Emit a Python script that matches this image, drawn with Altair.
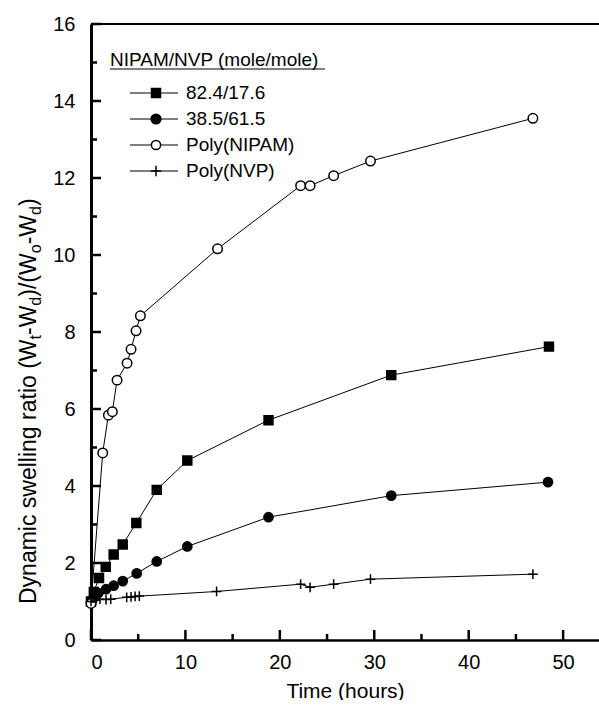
import altair as alt
import pandas as pd

# ---------------- data ----------------
series_names = ["82.4/17.6", "38.5/61.5", "Poly(NIPAM)", "Poly(NVP)"]

t_a = [0, 0.3, 0.85, 1.56, 2.4, 3.36, 4.8, 6.96, 10.2, 18.8, 31.8, 48.5]
y_a = [1.0, 1.25, 1.61, 1.90, 2.22, 2.48, 3.04, 3.90, 4.66, 5.71, 6.88, 7.62]

t_b = [0, 0.3, 0.78, 1.59, 2.4, 3.36, 4.84, 6.96, 10.2, 18.8, 31.8, 48.4]
y_b = [1.0, 1.1, 1.22, 1.32, 1.41, 1.53, 1.73, 2.04, 2.43, 3.19, 3.75, 4.10]

t_c = [0, 1.24, 1.84, 2.26, 2.76, 3.82, 4.24, 4.77, 5.23, 13.4, 22.2, 23.2, 25.7, 29.6, 46.8]
y_c = [0.95, 4.86, 5.84, 5.93, 6.75, 7.19, 7.55, 8.03, 8.42, 10.16, 11.8, 11.8, 12.06, 12.44, 13.55]

t_d = [0, 0.5, 0.95, 1.59, 2.09, 3.78, 4.24, 4.67, 5.12, 13.3, 22.2, 23.2, 25.7, 29.6, 46.8]
y_d = [1.0, 1.03, 1.06, 1.05, 1.06, 1.11, 1.12, 1.13, 1.14, 1.26, 1.45, 1.37, 1.45, 1.58, 1.71]

x_major = [0, 10, 20, 30, 40, 50]
x_minor = [5, 15, 25, 35, 45]
y_major = [0, 2, 4, 6, 8, 10, 12, 14, 16]
y_minor = [1, 3, 5, 7, 9, 11, 13, 15]

legend_title = "NIPAM/NVP (mole/mole)"
x_title = "Time (hours)"
# y title pieces: (text, is_subscript)
y_title_pieces = [("Dynamic swelling ratio (W", False), ("t", True), ("-W", False), ("d", True),
                  (")/(W", False), ("o", True), ("-W", False), ("d", True), (")", False)]

# ---------------- layout / style ----------------
W, H = 508, 616
XMAX = 53.8
FONT = "Liberation Sans"
CROSS = "M-1,0H1M0,-1V1"

shapes = ["square", "circle", "circle", CROSS]
fills = ["black", "black", "white", "transparent"]
sizes = [80, 95, 85, 110]

frames = []
for name, t, y in zip(series_names, [t_a, t_b, t_c, t_d], [y_a, y_b, y_c, y_d]):
    frames.append(pd.DataFrame({"series": name, "t": t, "y": y}))
df = pd.concat(frames, ignore_index=True)

xs = alt.Scale(domain=[0, XMAX], nice=False, zero=False)
ys = alt.Scale(domain=[0, 16], nice=False)

base = alt.Chart(df)

lines = base.mark_line(color="black", strokeWidth=1).encode(
    x=alt.X("t:Q", scale=xs, title=x_title,
            axis=alt.Axis(values=x_major, grid=False, ticks=False, tickSize=0, domainWidth=2.5,
                          domainColor="black", labelFontSize=20, labelPadding=12, labelColor="black",
                          labelFont=FONT, titleFont=FONT, titleFontSize=21, titleFontWeight="normal",
                          titleColor="black", titlePadding=8)),
    y=alt.Y("y:Q", scale=ys, title=None,
            axis=alt.Axis(values=y_major, grid=False, ticks=False, tickSize=0, domainWidth=3,
                          domainColor="black", labelFontSize=20, labelPadding=16, labelColor="black",
                          labelFont=FONT)),
    detail="series:N",
)

points = base.mark_point(opacity=1, fillOpacity=1, stroke="black", strokeWidth=1.5).encode(
    x=alt.X("t:Q", scale=xs),
    y=alt.Y("y:Q", scale=ys),
    shape=alt.Shape("series:N", scale=alt.Scale(domain=series_names, range=shapes), legend=None),
    fill=alt.Fill("series:N", scale=alt.Scale(domain=series_names, range=fills), legend=None),
    size=alt.Size("series:N", scale=alt.Scale(domain=series_names, range=sizes), legend=None),
)

one = pd.DataFrame({"k": [0]})

# inward ticks
def xticks(vals, length):
    return alt.Chart(pd.DataFrame({"v": vals})).mark_rule(color="black", strokeWidth=2.5).encode(
        x=alt.X("v:Q", scale=xs), y=alt.value(H), y2=alt.value(H - length))

def yticks(vals, length):
    return alt.Chart(pd.DataFrame({"v": vals})).mark_rule(color="black", strokeWidth=2.5).encode(
        y=alt.Y("v:Q", scale=ys), x=alt.value(0), x2=alt.value(length))

top_frame = alt.Chart(one).mark_rule(color="black", strokeWidth=2).encode(
    x=alt.value(0), x2=alt.value(W), y=alt.value(0))

# manual legend
leg_layers = []
leg_layers.append(alt.Chart(one).mark_text(align="left", baseline="middle", fontSize=19, font=FONT,
                                           color="black", text=legend_title).encode(
    x=alt.value(19), y=alt.value(36)))
leg_layers.append(alt.Chart(one).mark_rule(color="black", strokeWidth=1).encode(
    x=alt.value(19), x2=alt.value(234), y=alt.value(45)))
for i, name in enumerate(series_names):
    ry = 69 + 26 * i
    leg_layers.append(alt.Chart(one).mark_rule(color="black", strokeWidth=1).encode(
        x=alt.value(39), x2=alt.value(87), y=alt.value(ry)))
    leg_layers.append(alt.Chart(one).mark_point(shape=shapes[i], fill=fills[i], opacity=1, fillOpacity=1,
                                                stroke="black", strokeWidth=1.5, size=sizes[i]).encode(
        x=alt.value(65), y=alt.value(ry)))
    leg_layers.append(alt.Chart(one).mark_text(align="left", baseline="middle", fontSize=19, font=FONT,
                                               color="black", text=name).encode(
        x=alt.value(95), y=alt.value(ry)))

# y-axis title built from pieces (with subscripts), rotated
EM = {"D": .722, "y": .5, "n": .556, "a": .556, "m": .833, "i": .222, "c": .5, " ": .278, "s": .5,
      "w": .722, "e": .556, "l": .222, "g": .556, "r": .333, "t": .278, "o": .556, "(": .333,
      "W": .944, "-": .333, ")": .333, "/": .278, "d": .556}
FT = 23
FS = 0.7 * FT
XB = -55
ystart = 580
title_layers = []
pos = 0.0
for txt, sub in y_title_pieces:
    fsz = FS if sub else FT
    title_layers.append(alt.Chart(one).mark_text(angle=270, align="left", baseline="alphabetic",
                                                 fontSize=fsz, font=FONT, color="black", text=txt).encode(
        x=alt.value(XB + (5 if sub else 0)), y=alt.value(ystart - pos)))
    pos += sum(EM.get(ch, 0.55) for ch in txt) * fsz

chart = alt.layer(
    lines, points,
    xticks(x_major, 10), xticks(x_minor, 6), yticks(y_major, 10), yticks(y_minor, 6),
    top_frame, *leg_layers, *title_layers,
).properties(
    width=W, height=H,
    autosize=alt.AutoSizeParams(type="none"),
    padding={"left": 91, "top": 24, "right": 0, "bottom": 60},
).configure_view(stroke=None).configure(background="white")

chart.save("out.html", embed_options={"renderer": "svg", "actions": False})
